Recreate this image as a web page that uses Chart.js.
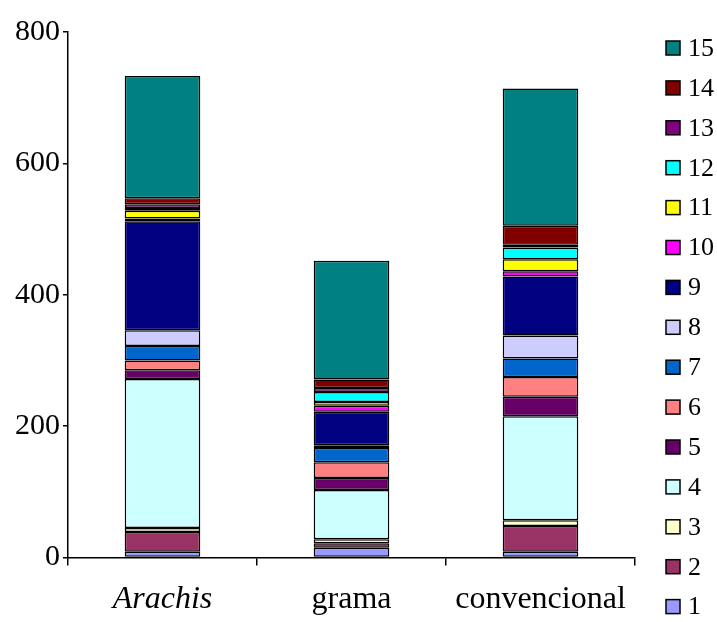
<!DOCTYPE html>
<html>
<head>
<meta charset="utf-8">
<script src="https://cdn.jsdelivr.net/npm/chart.js@4/dist/chart.umd.min.js"></script>
<style>
  html, body { margin: 0; padding: 0; background: #fff; overflow: hidden; }
</style>
</head>
<body>
<canvas id="grafico" width="717" height="622"></canvas>
<script>
// categorias del eje x
const categorias = ['Arachis', 'grama', 'convencional'];
// series 1..15 (de abajo hacia arriba en cada barra)
const series = ['1', '2', '3', '4', '5', '6', '7', '8', '9', '10', '11', '12', '13', '14', '15'];
// valores por categoria, en el orden de las series
const valoresArachis = [9, 30, 6, 227, 13, 15, 22, 24, 166, 4, 12, 4, 6, 9, 186];
const valoresGrama = [15, 7, 6, 75, 18, 24, 22, 4, 51, 9, 6, 15, 6, 13, 181];
const valoresConvencional = [9, 39, 9, 158, 30, 30, 28, 35, 90, 8, 18, 18, 4, 29, 209];
const ticksY = [0, 200, 400, 600, 800];

const colores = ['#9999FF', '#993366', '#FFFFCC', '#CCFFFF', '#660066', '#FF8080', '#0066CC',
    '#CCCCFF', '#000080', '#FF00FF', '#FFFF00', '#00FFFF', '#800080', '#800000', '#008080'];

const fuente = "'Liberation Serif', 'Times New Roman', serif";

const datasets = series.map((nombre, i) => ({
    label: nombre,
    data: [valoresArachis[i], valoresGrama[i], valoresConvencional[i]],
    backgroundColor: colores[i],
    borderColor: '#000',
    borderWidth: 1.5,
    borderSkipped: false,
    barPercentage: 0.5,
    categoryPercentage: 0.8
}));

// leyenda en columna a la derecha, serie 15 arriba
const leyendaColumna = {
    id: 'leyendaColumna',
    afterDraw(chart) {
        const ctx = chart.ctx;
        const ds = chart.data.datasets;
        const x0 = 666, y0 = 48, paso = 39.9, lado = 14;
        ctx.save();
        ctx.font = '26px ' + fuente;
        ctx.textBaseline = 'middle';
        for (let k = 0; k < ds.length; k++) {
            const d = ds[ds.length - 1 - k];
            const y = y0 + k * paso;
            ctx.fillStyle = d.backgroundColor;
            ctx.fillRect(x0, y - lado / 2, lado, lado);
            ctx.lineWidth = 1.5;
            ctx.strokeStyle = '#000';
            ctx.strokeRect(x0, y - lado / 2, lado, lado);
            ctx.fillStyle = '#000';
            ctx.fillText(d.label, x0 + 22, y + 1);
        }
        ctx.restore();
    }
};

new Chart(document.getElementById('grafico').getContext('2d'), {
    type: 'bar',
    data: { labels: categorias, datasets: datasets },
    options: {
        responsive: false,
        animation: false,
        layout: { padding: { top: 32, right: 82, left: 12, bottom: -12 } },
        plugins: {
            legend: { display: false },
            tooltip: { enabled: false }
        },
        scales: {
            x: {
                stacked: true,
                grid: { drawOnChartArea: false, drawTicks: true, tickLength: 8, color: '#000', lineWidth: 1.5 },
                border: { display: true, color: '#000', width: 1.5 },
                ticks: {
                    color: '#000',
                    padding: 15,
                    font: (c) => ({ family: fuente, size: 32, style: c.index === 0 ? 'italic' : 'normal' })
                }
            },
            y: {
                stacked: true,
                min: 0,
                max: 800,
                afterBuildTicks: (axis) => { axis.ticks = ticksY.map(v => ({ value: v })); },
                grid: { drawOnChartArea: false, drawTicks: true, tickLength: 5, color: '#000', lineWidth: 1.5 },
                border: { display: true, color: '#000', width: 1.5 },
                ticks: {
                    color: '#000',
                    padding: 3,
                    font: { family: fuente, size: 30 }
                }
            }
        }
    },
    plugins: [leyendaColumna]
});
</script>
</body>
</html>
